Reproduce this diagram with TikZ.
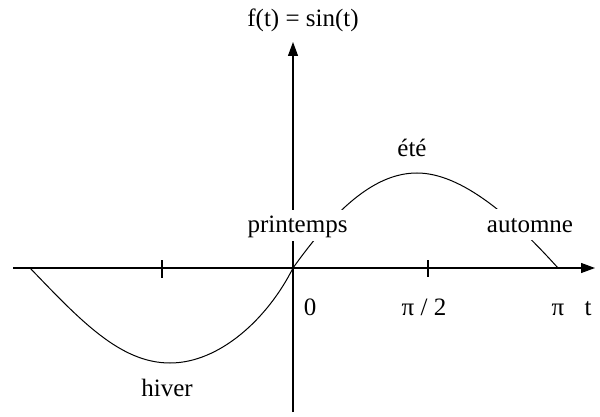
\documentclass[tikz,border=0pt]{standalone}
\usepackage{fontspec}
\setmainfont{Liberation Serif}
\usetikzlibrary{arrows.meta}
\begin{document}
\begin{tikzpicture}[x=1pt,y=-1pt,
  axis/.style={line width=1.2pt,-{Triangle[length=14pt,width=10pt]}},
  curve/.style={line width=1pt},
  tick/.style={line width=1.1pt},
  lbl/.style={font=\fontsize{25}{30}\selectfont,inner sep=0pt,anchor=base},
  mask/.style={lbl,fill=white,inner sep=4pt,text height=19pt,text depth=4pt}]
\useasboundingbox (0,0) rectangle (600,417);
% axes
\coordinate (xs) at (13,268);
\coordinate (xe) at (595,268);
\coordinate (ys) at (293,412);
\coordinate (ye) at (293,42);
\coordinate (O) at (293,268);
\draw[axis] (xs) -- (xe);
\draw[axis] (ys) -- (ye);
% ticks
\coordinate (t1a) at (162,260); \coordinate (t1b) at (162,278);
\coordinate (t2a) at (428,260); \coordinate (t2b) at (428,277);
\draw[tick] (t1a) -- (t1b);
\draw[tick] (t2a) -- (t2b);
% curve
\coordinate (L) at (30,268);
\coordinate (mn) at (170,363);
\coordinate (mx) at (417,173);
\coordinate (R) at (558,268);
\draw[curve] (L) .. controls (80,320) and (120,363) .. (mn)
  .. controls (220,363) and (268,318) .. (O)
  .. controls (338,205) and (377,173) .. (mx)
  .. controls (462,173) and (513,218) .. (R);
% labels
\node[lbl] (title) at (303,27) {f(t) = sin(t)};
\node[mask] (spring) at (297.5,233) {printemps};
\node[mask] (autumn) at (530,232) {automne};
\node[lbl] (summer) at (412,157) {été};
\node[lbl] (winter) at (167,396) {hiver};
\node[lbl] (zero) at (310,315) {0};
\node[lbl] (halfpi) at (424,315) {π / 2};
\node[lbl] (pi) at (558,315) {π};
\node[lbl] (tvar) at (588,315) {t};
\end{tikzpicture}
\end{document}
